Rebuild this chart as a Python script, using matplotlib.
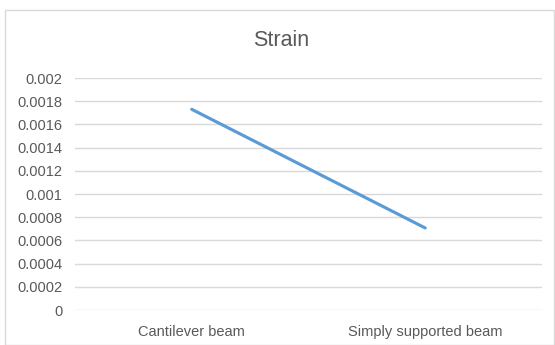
import matplotlib
matplotlib.use("Agg")
import matplotlib.pyplot as plt
from matplotlib.patches import Rectangle

categories = ["Cantilever beam", "Simply supported beam"]
strain = [0.00173, 0.000707]
y_ticks = [0, 0.0002, 0.0004, 0.0006, 0.0008, 0.001, 0.0012, 0.0014, 0.0016, 0.0018, 0.002]
y_tick_labels = ["0", "0.0002", "0.0004", "0.0006", "0.0008", "0.001", "0.0012", "0.0014", "0.0016", "0.0018", "0.002"]

W, H = 555, 345
fig = plt.figure(figsize=(W / 100, H / 100), dpi=100)
fig.patch.set_facecolor("white")

# outer chart border
fig.patches.append(Rectangle((5 / W, 0), (554 - 5) / W, (H - 10) / H, transform=fig.transFigure,
                             fill=False, edgecolor="#D9D9D9", linewidth=1.0))

left, right, top, bottom = 75, 542, 78, 310
ax = fig.add_axes([left / W, 1 - bottom / H, (right - left) / W, (bottom - top) / H])

x = list(range(len(categories)))
ax.plot(x, strain, color="#5B9BD5", linewidth=2.25, solid_capstyle="round")

ax.set_xlim(-0.5, len(categories) - 0.5)
ax.set_ylim(0, 0.002)
ax.set_yticks(y_ticks)
ax.set_yticklabels(y_tick_labels)
ax.set_xticks(x)
ax.set_xticklabels(categories)
ax.grid(axis="y", color="#D9D9D9", linewidth=1.0)
ax.set_axisbelow(True)
for s in ax.spines.values():
    s.set_visible(False)
ax.tick_params(axis="both", length=0, colors="#595959", labelsize=10.5,
               labelfontfamily="Liberation Sans")
ax.tick_params(axis="y", pad=9)
ax.tick_params(axis="x", pad=11)
ax.set_facecolor("white")

fig.text(281 / W, 1 - 41 / H, "Strain", ha="center", va="center",
         fontsize=15.5, color="#595959", family="Liberation Sans")

fig.savefig("out.png", dpi=100)
